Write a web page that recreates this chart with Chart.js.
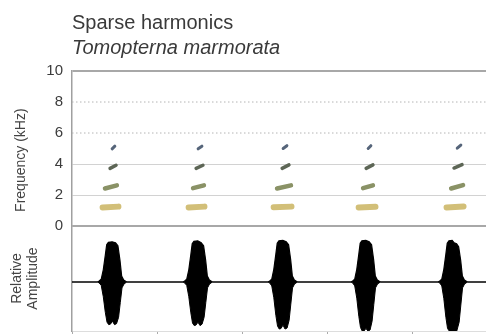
<!DOCTYPE html>
<html><head><meta charset="utf-8">
<script src="https://cdn.jsdelivr.net/npm/chart.js@4"></script>
<style>html,body{margin:0;padding:0;background:#fff}#wrap{position:relative;width:486px;height:334px}</style>
</head><body><div id="wrap"><canvas id="c" width="486" height="334"></canvas></div>
<script>
// ---- text ----
const titleText = "Sparse harmonics";
const speciesText = "Tomopterna marmorata";
const freqAxisTitle = "Frequency (kHz)      ";
const ampAxisTitle = ["Relative", "Amplitude"];

// ---- axes ----
const freqTicks = [0, 2, 4, 6, 8, 10];
const dottedGridValues = [6, 8];
const timeRange = [0, 2.435];   // seconds
const timeTicks = [0, 0.5, 1.0, 1.5, 2.0];
const ampRange = [-1, 1.143];

// ---- spectrogram marks: [tStart, fStart, tEnd, fEnd] (s, kHz) per call ----
const harmonic1 = [[0.180,1.20,0.273,1.25],[0.686,1.20,0.779,1.25],[1.186,1.21,1.291,1.25],[1.686,1.20,1.785,1.24],[2.203,1.20,2.303,1.26]];
const harmonic2 = [[0.194,2.42,0.264,2.62],[0.712,2.44,0.776,2.62],[1.206,2.42,1.288,2.62],[1.712,2.44,1.770,2.62],[2.230,2.42,2.300,2.64]];
const harmonic3 = [[0.224,3.72,0.259,3.92],[0.730,3.72,0.770,3.92],[1.236,3.72,1.276,3.94],[1.730,3.72,1.770,3.94],[2.247,3.74,2.294,3.96]];
const harmonic4 = [[0.236,4.98,0.252,5.15],[0.742,4.98,0.764,5.15],[1.242,5.00,1.264,5.18],[1.742,5.00,1.758,5.18],[2.266,5.02,2.287,5.22]];

// ---- waveform envelope (t in s, relative amplitude) ----
const waveUpper = [
  [0,0],
  [0.150,0],[0.160,0.02],[0.172,0.06],[0.184,0.25],[0.196,0.55],[0.204,0.76],[0.214,0.81],[0.236,0.82],[0.256,0.80],[0.270,0.74],[0.282,0.45],[0.292,0.12],[0.304,0.04],[0.322,0],
  [0.653,0],[0.663,0.02],[0.675,0.06],[0.687,0.25],[0.699,0.56],[0.707,0.78],[0.717,0.83],[0.740,0.84],[0.760,0.80],[0.774,0.74],[0.786,0.45],[0.796,0.12],[0.808,0.04],[0.826,0],
  [1.153,0],[1.163,0.02],[1.175,0.06],[1.187,0.26],[1.199,0.57],[1.207,0.79],[1.217,0.84],[1.240,0.85],[1.260,0.82],[1.274,0.76],[1.286,0.46],[1.296,0.12],[1.308,0.04],[1.326,0],
  [1.641,0],[1.651,0.02],[1.663,0.06],[1.675,0.26],[1.687,0.57],[1.695,0.79],[1.705,0.84],[1.728,0.85],[1.748,0.82],[1.762,0.76],[1.774,0.46],[1.784,0.12],[1.796,0.04],[1.814,0],
  [2.153,0],[2.163,0.02],[2.175,0.06],[2.187,0.26],[2.199,0.57],[2.207,0.79],[2.217,0.84],[2.236,0.85],[2.248,0.80],[2.262,0.78],[2.274,0.72],[2.286,0.44],[2.296,0.12],[2.308,0.04],[2.326,0],
  [2.435,0]
];
const waveLower = [
  [0,0],
  [0.150,0],[0.160,-0.02],[0.172,-0.07],[0.184,-0.3],[0.196,-0.62],[0.206,-0.82],[0.216,-0.87],[0.226,-0.86],[0.238,-0.80],[0.250,-0.87],[0.262,-0.85],[0.274,-0.72],[0.284,-0.42],[0.294,-0.12],[0.306,-0.04],[0.322,0],
  [0.653,0],[0.663,-0.02],[0.675,-0.07],[0.687,-0.3],[0.699,-0.63],[0.709,-0.84],[0.719,-0.89],[0.729,-0.88],[0.741,-0.82],[0.753,-0.89],[0.765,-0.86],[0.777,-0.72],[0.787,-0.42],[0.797,-0.12],[0.809,-0.04],[0.826,0],
  [1.153,0],[1.163,-0.02],[1.175,-0.08],[1.187,-0.32],[1.199,-0.68],[1.209,-0.9],[1.219,-0.96],[1.229,-0.95],[1.241,-0.88],[1.253,-0.96],[1.265,-0.94],[1.277,-0.78],[1.287,-0.45],[1.297,-0.12],[1.309,-0.04],[1.326,0],
  [1.641,0],[1.651,-0.02],[1.663,-0.08],[1.675,-0.33],[1.687,-0.70],[1.697,-0.93],[1.707,-1.0],[1.717,-1.0],[1.729,-0.95],[1.741,-1.0],[1.753,-0.98],[1.765,-0.8],[1.775,-0.46],[1.785,-0.12],[1.797,-0.04],[1.814,0],
  [2.153,0],[2.163,-0.02],[2.175,-0.08],[2.187,-0.34],[2.199,-0.72],[2.209,-0.95],[2.219,-1.0],[2.241,-1.0],[2.263,-1.0],[2.277,-0.82],[2.287,-0.47],[2.297,-0.12],[2.309,-0.04],[2.326,0],
  [2.435,0]
];

// ---- helpers to build library data ----
const segPoints = segs => {
  const out = [];
  segs.forEach(s => { out.push({x:s[0], y:s[1]}, {x:s[2], y:s[3]}, {x:s[2], y:null}); });
  return out;
};
const pts = arr => arr.map(p => ({x:p[0], y:p[1]}));
const hline = v => [{x:timeRange[0], y:v}, {x:timeRange[1], y:v}];

const FONT = "'Liberation Sans', Arial, sans-serif";
const base = {pointRadius:0, pointHoverRadius:0, tension:0, spanGaps:false, fill:false};
const mark = (segs, color, width) => Object.assign({}, base, {
  data: segPoints(segs), yAxisID:'yFreq', borderColor:color, borderWidth:width,
  borderCapStyle:'round', borderJoinStyle:'round'
});

const datasets = [
  ...dottedGridValues.map(v => Object.assign({}, base, {
    data: hline(v), yAxisID:'yFreq', borderColor:'#b4b4b4', borderWidth:1, borderDash:[1.5,2.5]
  })),
  mark(harmonic1, '#d2bf78', 6),
  mark(harmonic1, '#9a8444', 2.2),
  mark(harmonic2, '#8a9266', 4.5),
  mark(harmonic2, '#3e4a40', 2.2),
  mark(harmonic3, '#5d6656', 3.5),
  mark(harmonic3, '#3a4238', 1.6),
  mark(harmonic4, '#56657a', 3),
  Object.assign({}, base, {data: pts(waveUpper), yAxisID:'yAmp', borderColor:'#000', backgroundColor:'#000', borderWidth:1.2, fill:'origin'}),
  Object.assign({}, base, {data: pts(waveLower), yAxisID:'yAmp', borderColor:'#000', backgroundColor:'#000', borderWidth:1, fill:'origin'})
];

new Chart(document.getElementById('c'), {
  type: 'line',
  data: { datasets },
  options: {
    responsive: false,
    animation: false,
    events: [],
    layout: { padding: { top: 0, right: 0, bottom: 0, left: 0 } },
    plugins: {
      legend: { display: false },
      tooltip: { enabled: false },
      title: {
        display: true, text: titleText, align: 'start', fullSize: false,
        color: '#3a3a3a', font: { family: FONT, size: 20, weight: 'normal', lineHeight: 1.2 },
        padding: { top: 11, bottom: 0 }
      },
      subtitle: {
        display: true, text: speciesText, align: 'start', fullSize: false,
        color: '#3a3a3a', font: { family: FONT, size: 20, style: 'italic', weight: 'normal', lineHeight: 1.2 },
        padding: { top: 1, bottom: 11 }
      }
    },
    scales: {
      x: {
        type: 'linear', min: timeRange[0], max: timeRange[1],
        afterBuildTicks: s => { s.ticks = timeTicks.map(v => ({value: v})); },
        afterFit: s => { s.height = 3; s.paddingLeft = 0; s.paddingRight = 0; },
        ticks: { display: false },
        grid: { drawOnChartArea: false, drawTicks: true, tickLength: 3, tickColor: '#aaa' },
        border: { display: true, color: '#ddd', width: 1 }
      },
      yAmp: {
        type: 'linear', position: 'left', stack: 'v', stackWeight: 105,
        min: ampRange[0], max: ampRange[1],
        afterFit: s => { s.width = 72; s.paddingTop = 0; s.paddingBottom = 0; },
        ticks: { display: false },
        grid: { display: false },
        border: { display: true, color: '#a0a0a0', width: 1.5 },
        title: {
          display: true, text: ampAxisTitle, color: '#444',
          font: { family: FONT, size: 14, lineHeight: 1.08 },
          padding: { top: 10, bottom: 0 }
        }
      },
      yFreq: {
        type: 'linear', position: 'left', stack: 'v', stackWeight: 155,
        min: 0, max: 10,
        afterBuildTicks: s => { s.ticks = freqTicks.map(v => ({value: v})); },
        afterFit: s => { s.width = 72; s.paddingBottom = 0; },
        ticks: { color: '#3c3c3c', padding: 9, autoSkip: false, font: { family: FONT, size: 15 } },
        grid: {
          drawTicks: false,
          color: ctx => {
            const v = ctx.tick ? ctx.tick.value : null;
            if (v === 0 || v === 10) return '#a8a8a8';
            if (dottedGridValues.includes(v)) return 'rgba(0,0,0,0)';
            return '#d2d2d2';
          },
          lineWidth: ctx => {
            const v = ctx.tick ? ctx.tick.value : null;
            return (v === 0 || v === 10) ? 2 : 1;
          }
        },
        border: { display: true, color: '#a0a0a0', width: 1.5 },
        title: {
          display: true, text: freqAxisTitle, color: '#444',
          font: { family: FONT, size: 14, lineHeight: 1.2 },
          padding: { top: 13, bottom: 0 }
        }
      }
    }
  }
});
</script>
</body></html>
